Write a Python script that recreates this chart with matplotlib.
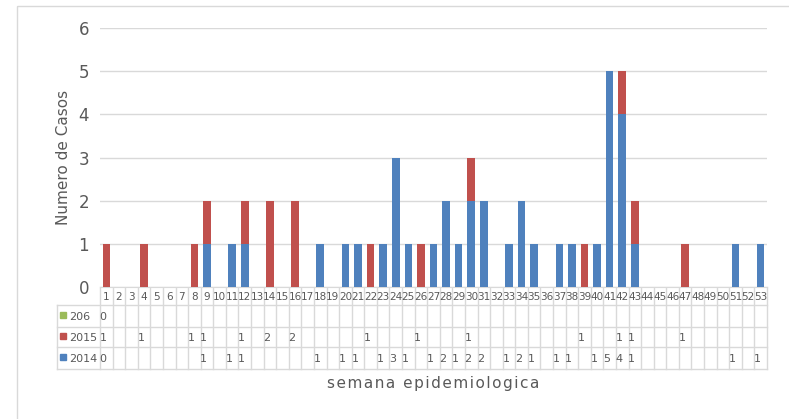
import matplotlib
matplotlib.use("Agg")
import matplotlib.pyplot as plt
import numpy as np
from matplotlib.transforms import blended_transform_factory
from matplotlib.patches import Rectangle

# weekly case counts
weeks = list(range(1, 54))
cases_2014 = {1: 0, 9: 1, 11: 1, 12: 1, 18: 1, 20: 1, 21: 1, 23: 1, 24: 3,
              25: 1, 27: 1, 28: 2, 29: 1, 30: 2, 31: 2, 33: 1, 34: 2, 35: 1,
              37: 1, 38: 1, 40: 1, 41: 5, 42: 4, 43: 1, 51: 1, 53: 1}
cases_2015 = {1: 1, 4: 1, 8: 1, 9: 1, 12: 1, 14: 2, 16: 2, 22: 1, 26: 1,
              30: 1, 39: 1, 42: 1, 43: 1, 47: 1}
cases_206 = {1: 0}

series = [("206", cases_206, "#9BBB59"),
          ("2015", cases_2015, "#C0504D"),
          ("2014", cases_2014, "#4F81BD")]

TXT = "#595959"
GRID = "#D9D9D9"
W, H = 789, 419

fig = plt.figure(figsize=(W / 100, H / 100), dpi=100)
ax = fig.add_axes([100 / W, 1 - 287 / H, 667 / W, 259 / H])

x = np.array(weeks)
v2014 = np.array([cases_2014.get(w, 0) for w in weeks])
v2015 = np.array([cases_2015.get(w, 0) for w in weeks])
v206 = np.array([cases_206.get(w, 0) for w in weeks])
ax.bar(x, v2014, width=0.6, color="#4F81BD", zorder=3)
ax.bar(x, v2015, width=0.6, bottom=v2014, color="#C0504D", zorder=3)
ax.bar(x, v206, width=0.6, bottom=v2014 + v2015, color="#9BBB59", zorder=3)

ax.set_xlim(0.5, 53.5)
ax.set_ylim(0, 6)
ax.set_yticks(range(0, 7))
ax.set_xticks([])
ax.yaxis.grid(True, color=GRID, lw=1)
ax.set_axisbelow(True)
for s in ["top", "right", "left"]:
    ax.spines[s].set_visible(False)
ax.spines["bottom"].set_color(GRID)
ax.tick_params(axis="y", length=0, labelsize=12, labelcolor=TXT, pad=8)
ax.set_ylabel("Numero de Casos", fontsize=11, color=TXT, labelpad=5)

# overlay in pixel coordinates for the data table and frame
fa = fig.add_axes([0, 0, 1, 1], zorder=-1)
fa.set_xlim(0, W)
fa.set_ylim(H, 0)
fa.axis("off")
fa.add_patch(Rectangle((17, 6), 800, 430, fill=False, ec=GRID, lw=1))
trans = blended_transform_factory(ax.transData, fa.transData)

row_lines = [305, 327, 347, 369]
top = 287
for b in np.arange(0.5, 54.0, 1.0):
    fa.plot([b, b], [top, row_lines[-1]], color=GRID, lw=1, transform=trans)
for y in row_lines:
    fa.plot([57, 767], [y, y], color=GRID, lw=1)
fa.plot([57, 57], [row_lines[0], row_lines[-1]], color=GRID, lw=1)

for w in weeks:
    fa.text(w, 297, str(w), transform=trans, ha="center", va="center",
            fontsize=7.5, color=TXT)

for i, (name, vals, col) in enumerate(series):
    yc = (row_lines[i] + row_lines[i + 1]) / 2 + 1
    fa.add_patch(Rectangle((60, yc - 5), 6, 6, color=col))
    fa.text(69, yc, name, ha="left", va="center", fontsize=8, color=TXT)
    for w, v in vals.items():
        fa.text(w - 0.25, yc, str(v), transform=trans, ha="center",
                va="center", fontsize=8, color=TXT)

xlabel = "semana epidemiologica"
fa.text(433, 383, "\u200a".join(xlabel), ha="center", va="center",
        fontsize=11, color=TXT)

fig.savefig("out.png", dpi=100)
